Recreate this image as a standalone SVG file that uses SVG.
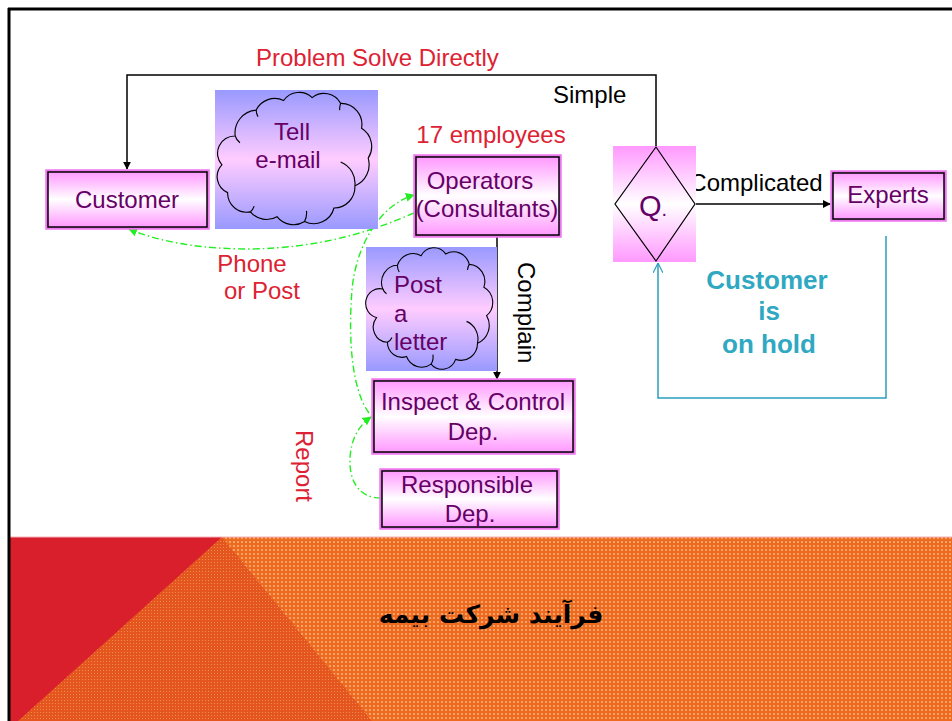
<svg xmlns="http://www.w3.org/2000/svg" width="952" height="721" viewBox="0 0 952 721">
<defs>
<style>
.t{font-family:"Liberation Sans",Arial,sans-serif;font-size:24px}
.p{fill:#660066}
.r{fill:#dd2233}
.k{fill:#000}
.tl{fill:#30a8c2;font-weight:bold;font-size:26px}
.ob{fill:none;stroke:#ee77ee;stroke-width:3.5}
.ib{stroke:#000;stroke-width:1.5}
.cl{stroke:#000;stroke-width:1.2}
.g{fill:none;stroke:#22ee22;stroke-width:1.4;stroke-dasharray:7 3 1.5 3}
</style>
<linearGradient id="bx" x1="0" y1="0" x2="0" y2="1">
<stop offset="0" stop-color="#ff99ff"/>
<stop offset="0.5" stop-color="#ffffff"/>
<stop offset="1" stop-color="#ff99ff"/>
</linearGradient>
<linearGradient id="cg" x1="0" y1="0" x2="0" y2="1">
<stop offset="0" stop-color="#9999ff"/>
<stop offset="0.5" stop-color="#ffccff"/>
<stop offset="1" stop-color="#9999ff"/>
</linearGradient>
<pattern id="lo" width="4" height="4" patternUnits="userSpaceOnUse">
<rect width="4" height="4" fill="#ee6a1e"/>
<rect x="1" y="1" width="2" height="2" fill="#f6a46c"/>
</pattern>
<pattern id="dko" width="3" height="3" patternUnits="userSpaceOnUse">
<rect width="3" height="3" fill="#e4561e"/>
<rect x="1" y="1" width="1" height="1" fill="#ef8a50"/>
</pattern>
<marker id="ab" viewBox="0 0 10 10" refX="9" refY="5" markerWidth="8" markerHeight="8" markerUnits="userSpaceOnUse" orient="auto">
<path d="M0,0 L10,5 L0,10 z" fill="#000"/>
</marker>
<marker id="ag" viewBox="0 0 10 10" refX="9" refY="5" markerWidth="9" markerHeight="9" markerUnits="userSpaceOnUse" orient="auto">
<path d="M0,0 L10,5 L0,10 z" fill="#22ee22"/>
</marker>
<marker id="at" viewBox="0 0 10 10" refX="10" refY="5" markerWidth="10" markerHeight="10" markerUnits="userSpaceOnUse" orient="auto">
<path d="M0,0 L10,5 L0,10" fill="none" stroke="#2a9fbf" stroke-width="1.2"/>
</marker>
</defs>

<rect width="952" height="721" fill="#fff"/>

<!-- bottom band -->
<g id="band">
<rect x="10" y="537" width="942" height="184" fill="url(#lo)"/>
<polygon points="222,537 372,721 16,721" fill="url(#dko)"/>
<polygon points="10,537 222,537 18,721 10,721" fill="#d91f2b"/>
<line x1="10" y1="537" x2="952" y2="537" stroke="#f4b0b8" stroke-width="1"/>
<text x="491" y="623" text-anchor="middle" font-family="'DejaVu Sans',sans-serif" font-weight="bold" font-size="25" fill="#000" direction="rtl">فرآیند شرکت بیمه</text>
</g>

<!-- frame -->
<g id="frame">
<line x1="8" y1="9" x2="952" y2="9" stroke="#000" stroke-width="3"/>
<line x1="9" y1="8" x2="9" y2="721" stroke="#000" stroke-width="3"/>
</g>

<!-- connectors -->
<g id="connectors">
<path d="M656,146 V75 H127 V169" fill="none" stroke="#000" stroke-width="1.5" marker-end="url(#ab)"/>
<path d="M497,236 V379" fill="none" stroke="#000" stroke-width="1.5" marker-end="url(#ab)"/>
<path d="M696,204 H830" fill="none" stroke="#000" stroke-width="1.5" marker-end="url(#ab)"/>
<path d="M886,236 V398 H658 V263" fill="none" stroke="#2a9fbf" stroke-width="1.5" marker-end="url(#at)"/>
<path class="g" d="M414,213 C370,232 320,248 250,249 C200,249 160,242 129,229" marker-end="url(#ag)"/>
<path class="g" d="M369,413 C352,390 348,340 352,290 C356,245 380,205 414,195" marker-end="url(#ag)"/>
<path class="g" d="M381,498 C358,498 349,480 350,458 C351,440 358,426 371,417" marker-end="url(#ag)"/>
<text class="t r" x="256" y="66">Problem Solve Directly</text>
<text class="t k" x="553" y="103">Simple</text>
<text class="t k" x="756" y="191" text-anchor="middle">Complicated</text>
<text class="t k" transform="translate(518,262) rotate(90)">Complain</text>
<text class="t r" x="252" y="272" text-anchor="middle">Phone</text>
<text class="t r" x="262" y="299" text-anchor="middle">or Post</text>
<text class="t r" transform="translate(296,430) rotate(90)">Report</text>
<text class="t tl" x="767" y="289" text-anchor="middle">Customer</text>
<text class="t tl" x="769" y="320" text-anchor="middle">is</text>
<text class="t tl" x="769" y="353" text-anchor="middle">on hold</text>
</g>

<!-- nodes -->
<g id="customer">
<rect class="ob" x="47" y="171" width="161" height="57"/>
<rect class="ib" x="48" y="172" width="159" height="55" fill="url(#bx)"/>
<text class="t p" x="127" y="208" text-anchor="middle">Customer</text>
</g>

<g id="tell">
<rect x="215" y="90" width="163" height="139" fill="url(#cg)"/>
<g transform="translate(296,160) scale(0.95,0.96) translate(-296,-160)">
<path class="cl" fill="none" d="M232,135 A24,24 0 0 1 254,108 A22,22 0 0 1 283,98 A20,20 0 0 1 313,95 A20,20 0 0 1 343,101 A22,22 0 0 1 365,127 A22,22 0 0 1 372,158 A24,24 0 0 1 358,187 A22,22 0 0 1 336,210 A22,22 0 0 1 305,224 A22,22 0 0 1 276,219 A22,22 0 0 1 248,214 A20,20 0 0 1 224,194 A18,18 0 0 1 218,165 A18,18 0 0 1 232,135 Z"/>
<path class="cl" fill="none" d="M232,135 A14,14 0 0 0 237,142 M254,108 A16,16 0 0 0 256,115 M343,101 A16,16 0 0 0 342,108 M358,187 A24,24 0 0 0 343,162 M305,224 A18,18 0 0 0 307,213 M248,214 A14,14 0 0 0 252,208"/>
</g>
<text class="t p" x="292" y="140" text-anchor="middle">Tell</text>
<text class="t p" x="288" y="168" text-anchor="middle">e-mail</text>
</g>

<g id="employees">
<text class="t r" x="491" y="143" text-anchor="middle">17 employees</text>
</g>

<g id="operators">
<rect class="ob" x="415" y="156" width="145" height="80"/>
<rect class="ib" x="416" y="157" width="143" height="78" fill="url(#bx)"/>
<text class="t p" x="480" y="189" text-anchor="middle">Operators</text>
<text class="t p" x="487" y="217" text-anchor="middle">(Consultants)</text>
</g>

<g id="post">
<rect x="366" y="247" width="131" height="124" fill="url(#cg)"/>
<g transform="translate(432,309) scale(0.91,0.95) translate(-432,-309)">
<path class="cl" fill="none" d="M378,288 A18,18 0 0 1 394,263 A18,18 0 0 1 420,253 A16,16 0 0 1 447,251 A18,18 0 0 1 473,262 A18,18 0 0 1 489,286 A18,18 0 0 1 492,316 A20,20 0 0 1 482,345 A18,18 0 0 1 458,362 A16,16 0 0 1 431,367 A18,18 0 0 1 404,359 A16,16 0 0 1 383,344 A16,16 0 0 1 371,318 A14,14 0 0 1 378,288 Z"/>
<path class="cl" fill="none" d="M378,288 A10,10 0 0 0 382,293 M394,263 A12,12 0 0 0 396,270 M473,262 A12,12 0 0 0 471,268 M482,345 A20,20 0 0 0 470,322 M431,367 A14,14 0 0 0 433,357 M383,344 A10,10 0 0 0 388,339"/>
</g>
<text class="t p" x="394" y="293">Post</text>
<text class="t p" x="394" y="322">a</text>
<text class="t p" x="394" y="350">letter</text>
</g>

<g id="inspect">
<rect class="ob" x="373" y="380" width="201" height="73"/>
<rect class="ib" x="374" y="381" width="199" height="71" fill="url(#bx)"/>
<text class="t p" x="473" y="410" text-anchor="middle">Inspect &amp; Control</text>
<text class="t p" x="473" y="440" text-anchor="middle">Dep.</text>
</g>

<g id="responsible">
<rect class="ob" x="381" y="470" width="177" height="58"/>
<rect class="ib" x="382" y="471" width="175" height="56" fill="url(#bx)"/>
<text class="t p" x="467" y="493" text-anchor="middle">Responsible</text>
<text class="t p" x="470" y="522" text-anchor="middle">Dep.</text>
</g>

<g id="question">
<rect x="613" y="146" width="83" height="116" fill="url(#bx)"/>
<polygon points="656,147 695,204 656,261 615,204" fill="none" stroke="#000" stroke-width="1.2"/>
<text class="t p" x="639" y="216" style="font-size:29px">Q<tspan style="font-size:20px">.</tspan></text>
</g>

<g id="experts">
<rect class="ob" x="832" y="172" width="113" height="48"/>
<rect class="ib" x="833" y="173" width="111" height="46" fill="url(#bx)"/>
<text class="t p" x="888" y="203" text-anchor="middle">Experts</text>
</g>
</svg>
